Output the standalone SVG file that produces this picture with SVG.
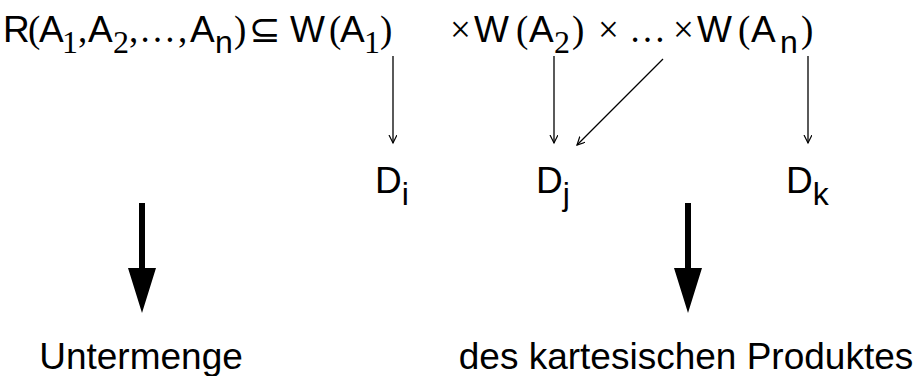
<svg xmlns="http://www.w3.org/2000/svg" width="920" height="376" viewBox="0 0 920 376">
<style>
.s{font-family:"Liberation Sans",Arial,sans-serif;font-size:37px;fill:#000}
.ss{font-family:"Liberation Sans",Arial,sans-serif;font-size:32px;fill:#000}
.r{font-family:"Liberation Serif","Times New Roman",serif;font-size:37px;fill:#000}
.rs{font-family:"Liberation Serif","Times New Roman",serif;font-size:32px;fill:#000}
.m{font-family:"DejaVu Sans",sans-serif;font-size:38px;fill:#000}
.thin{stroke:#000;stroke-width:1.3;fill:none}
.thick{fill:#000;stroke:none}
</style>
<defs>
<marker id="v" markerUnits="userSpaceOnUse" markerWidth="10" markerHeight="10" refX="8" refY="4" orient="auto">
<path d="M0,0 L8,4 L0,8" fill="none" stroke="#000" stroke-width="1.2"/>
</marker>
</defs>
<rect width="920" height="376" fill="#fff"/>
<g id="formula">
<text y="42"><tspan class="s" x="3">R</tspan><tspan class="r" x="28">(</tspan><tspan class="s" x="39">A</tspan><tspan class="rs" x="62" y="53">1</tspan><tspan class="r" x="78" y="42">,</tspan><tspan class="s" x="88">A</tspan><tspan class="rs" x="113" y="53">2</tspan><tspan class="r" x="129" y="42">,</tspan><tspan class="r" x="139">…</tspan><tspan class="r" x="178">,</tspan><tspan class="s" x="190">A</tspan><tspan class="ss" x="215" y="53">n</tspan><tspan class="r" x="234" y="42">)</tspan><tspan class="m" x="249">⊆</tspan><tspan class="s" x="290">W</tspan><tspan class="r" x="329">(</tspan><tspan class="s" x="340">A</tspan><tspan class="rs" x="364" y="53">1</tspan><tspan class="r" x="380" y="42">)</tspan><tspan class="r" x="450">×</tspan><tspan class="s" x="474">W</tspan><tspan class="r" x="516">(</tspan><tspan class="s" x="529">A</tspan><tspan class="rs" x="554" y="53">2</tspan><tspan class="r" x="572" y="42">)</tspan><tspan class="r" x="598">×</tspan><tspan class="r" x="629">…</tspan><tspan class="r" x="673">×</tspan><tspan class="s" x="697">W</tspan><tspan class="r" x="738">(</tspan><tspan class="s" x="751">A</tspan><tspan class="ss" x="780" y="53">n</tspan><tspan class="r" x="801" y="42">)</tspan></text>
</g>
<g id="Di"><text class="s" x="375" y="193">D<tspan class="ss" y="205">i</tspan></text></g>
<g id="Dj"><text class="s" x="536" y="193">D<tspan class="ss" y="205">j</tspan></text></g>
<g id="Dk"><text class="s" x="786" y="193">D<tspan class="ss" y="205">k</tspan></text></g>
<g id="untermenge"><text class="s" x="141" y="369" text-anchor="middle">Untermenge</text></g>
<g id="produkt"><text class="s" x="686" y="369" text-anchor="middle">des kartesischen Produktes</text></g>
<g id="connectors">
<line class="thin" x1="393" y1="56" x2="393" y2="143" marker-end="url(#v)"/>
<line class="thin" x1="554" y1="56" x2="554" y2="143" marker-end="url(#v)"/>
<line class="thin" x1="808" y1="56" x2="808" y2="143" marker-end="url(#v)"/>
<line class="thin" x1="663" y1="59" x2="577" y2="145" marker-end="url(#v)"/>
<path class="thick" d="M139,203 H145 V268 H156 L142,313 L128,268 H139 Z"/>
<path class="thick" d="M685,203 H691 V268 H702 L688,313 L674,268 H685 Z"/>
</g>
</svg>
